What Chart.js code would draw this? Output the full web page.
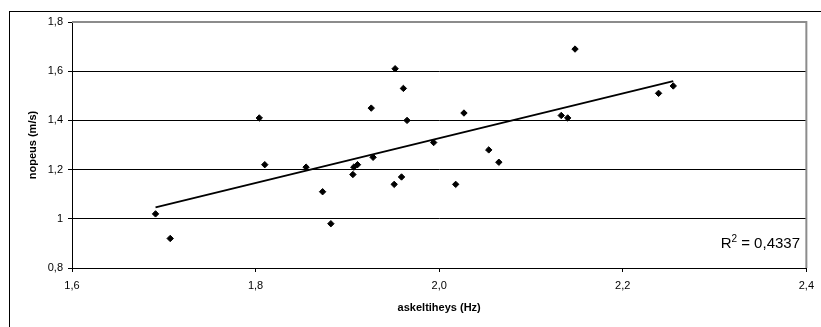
<!DOCTYPE html>
<html>
<head>
<meta charset="utf-8">
<title>Nopeus ja askeltiheys</title>
<script src="https://cdn.jsdelivr.net/npm/chart.js@4.4.0/dist/chart.umd.min.js"></script>
<style>
  html, body { margin: 0; padding: 0; background: #fff; }
  #wrap { position: relative; width: 821px; height: 327px; }
</style>
</head>
<body>
<div id="wrap"><canvas id="speedChart" width="821" height="327"></canvas></div>
<script>
// measured values: step frequency (Hz) and walking speed (m/s)
var askeltiheys = [1.691, 1.707, 1.804, 1.810, 1.855, 1.873, 1.882, 1.906, 1.907, 1.911,
                   1.926, 1.928, 1.951, 1.952, 1.959, 1.961, 1.965, 1.994, 2.018, 2.027,
                   2.054, 2.065, 2.133, 2.140, 2.148, 2.239, 2.255];
var nopeus = [1.02, 0.92, 1.41, 1.22, 1.21, 1.11, 0.98, 1.18, 1.21, 1.22,
              1.45, 1.25, 1.14, 1.61, 1.17, 1.53, 1.40, 1.31, 1.14, 1.43,
              1.28, 1.23, 1.42, 1.41, 1.69, 1.51, 1.54];

var xTickLabels = ['1,6', '1,8', '2,0', '2,2', '2,4'];
var yTickLabels = ['0,8', '1', '1,2', '1,4', '1,6', '1,8'];
var rSquaredText = '0,4337';

var FONT = 'Liberation Sans, Arial, sans-serif';

document.addEventListener('DOMContentLoaded', function() {
    var points = askeltiheys.map(function(x, i) { return {x: x, y: nopeus[i]}; });

    // least squares trendline over the data range
    var n = points.length, sx = 0, sy = 0, sxx = 0, sxy = 0;
    points.forEach(function(p) {
        sx += p.x; sy += p.y; sxx += p.x * p.x; sxy += p.x * p.y;
    });
    var slope = (n * sxy - sx * sy) / (n * sxx - sx * sx);
    var intercept = (sy - slope * sx) / n;
    var xMin = Math.min.apply(null, askeltiheys);
    var xMax = Math.max.apply(null, askeltiheys);
    var trend = [
        {x: xMin, y: intercept + slope * xMin},
        {x: xMax, y: intercept + slope * xMax}
    ];

    // outer frame, grey plot border and the R² note
    var frame = {
        id: 'frame',
        beforeDraw: function(chart) {
            var ctx = chart.ctx;
            ctx.save();
            ctx.fillStyle = '#000';
            ctx.fillRect(9, 11, chart.width - 9, 1);
            ctx.fillRect(9, 11, 1, chart.height - 11);
            ctx.restore();
        },
        beforeDatasetsDraw: function(chart) {
            var ctx = chart.ctx, a = chart.chartArea;
            ctx.save();
            ctx.strokeStyle = '#8c8c8c';
            ctx.lineWidth = 2;
            ctx.beginPath();
            ctx.moveTo(a.left, a.top);
            ctx.lineTo(a.right, a.top);
            ctx.lineTo(a.right, a.bottom);
            ctx.stroke();
            ctx.restore();
        },
        afterDraw: function(chart) {
            var ctx = chart.ctx;
            var right = 800, base = 248;
            ctx.save();
            ctx.fillStyle = '#000';
            ctx.textBaseline = 'alphabetic';
            ctx.font = '15px ' + FONT;
            var rest = ' = ' + rSquaredText;
            var wR = ctx.measureText('R').width;
            var wRest = ctx.measureText(rest).width;
            ctx.font = '10px ' + FONT;
            var w2 = ctx.measureText('2').width;
            var x0 = right - wRest - w2 - wR;
            ctx.font = '15px ' + FONT;
            ctx.fillText('R', x0, base);
            ctx.fillText(rest, x0 + wR + w2, base);
            ctx.font = '10px ' + FONT;
            ctx.fillText('2', x0 + wR, base - 6);
            ctx.restore();
        }
    };

    var ctx = document.getElementById('speedChart').getContext('2d');
    var speedChart = new Chart(ctx, {
        type: 'scatter',
        data: {
            datasets: [{
                label: 'nopeus',
                data: points,
                pointStyle: 'rectRot',
                pointRadius: 3.2,
                pointBorderWidth: 1,
                backgroundColor: '#000',
                borderColor: '#000'
            }, {
                label: 'trendi',
                data: trend,
                showLine: true,
                borderColor: '#000',
                borderWidth: 2,
                pointRadius: 0,
                fill: false
            }]
        },
        options: {
            responsive: false,
            devicePixelRatio: 1,
            animation: false,
            layout: { padding: { left: 0, top: 22, right: 8, bottom: 0 } },
            plugins: {
                legend: { display: false },
                tooltip: { enabled: false }
            },
            scales: {
                x: {
                    type: 'linear',
                    min: 1.6,
                    max: 2.4,
                    ticks: {
                        stepSize: 0.2,
                        maxRotation: 0,
                        padding: 7,
                        color: '#000',
                        font: { family: FONT, size: 11 },
                        callback: function(value, index) { return xTickLabels[index]; }
                    },
                    grid: { drawOnChartArea: false, tickLength: 4, color: '#000' },
                    border: { color: '#000', width: 1 },
                    title: {
                        display: true,
                        text: 'askeltiheys (Hz)',
                        color: '#000',
                        font: { family: FONT, size: 11, weight: 'bold' },
                        padding: { top: 0, bottom: 12 }
                    },
                    afterFit: function(scale) { scale.height = 59; }
                },
                y: {
                    min: 0.8,
                    max: 1.8,
                    ticks: {
                        stepSize: 0.2,
                        padding: 5,
                        color: '#000',
                        font: { family: FONT, size: 11 },
                        callback: function(value, index) { return yTickLabels[index]; }
                    },
                    grid: { tickLength: 4, color: '#000' },
                    border: { color: '#000', width: 1 },
                    title: {
                        display: true,
                        text: 'nopeus (m/s)',
                        color: '#000',
                        font: { family: FONT, size: 11, weight: 'bold' },
                        padding: { top: 26, bottom: 0 }
                    },
                    afterFit: function(scale) { scale.width = 72; }
                }
            }
        },
        plugins: [frame]
    });
});
</script>
</body>
</html>
